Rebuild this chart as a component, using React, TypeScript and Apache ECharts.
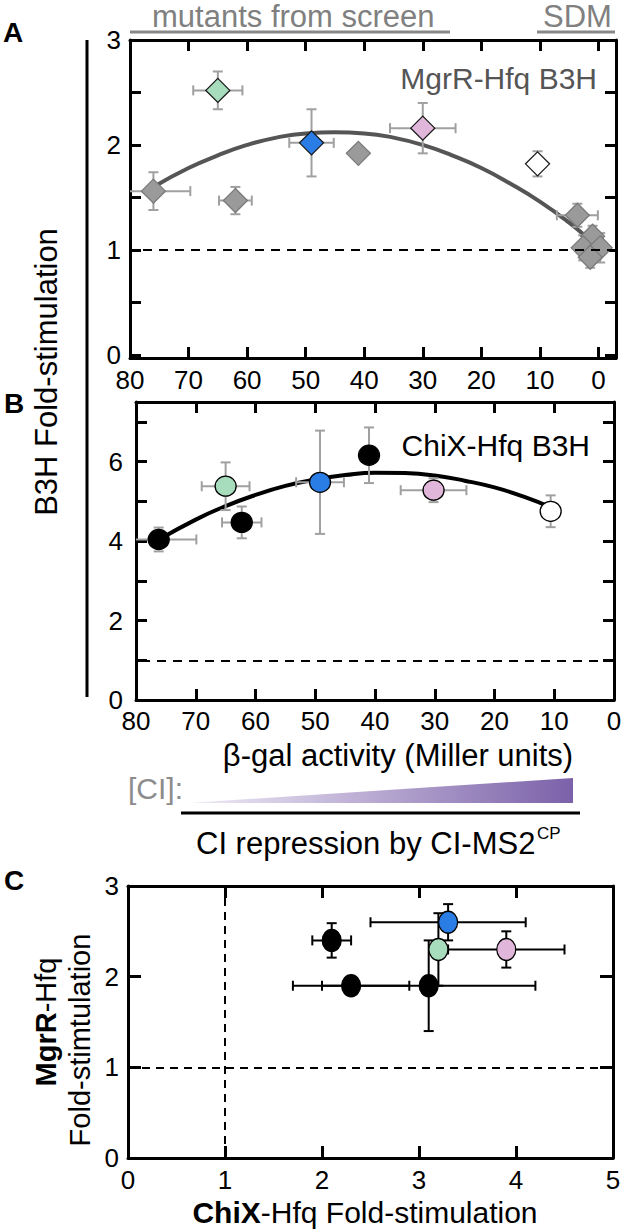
import React, { useEffect, useRef } from "react";
import * as echarts from "echarts";

const FONT = '"Liberation Sans", Arial, Helvetica, sans-serif';

// Panel A (MgrR-Hfq B3H)
const aX = [76, 62, 65, 49, 41, 30, 10.4, 3.6, 1.0, 2.6, -0.3, 1.4];
const aY = [1.56, 1.47, 2.52, 2.02, 1.92, 2.16, 1.82, 1.33, 1.13, 1.02, 1.02, 0.93];
const aXerr = [6.3, 2.8, 4.2, 3.8, 0, 5.6, 0, 3.5, 1.0, 1.0, 1.0, 1.0];
const aYerr = [0.18, 0.13, 0.18, 0.32, 0, 0.24, 0.12, 0.11, 0.1, 0.12, 0.14, 0.1];
const aColors = ["#9a9a9a", "#9a9a9a", "#a7dcbd", "#2b7de6", "#9a9a9a", "#e0b7da", "#ffffff", "#9a9a9a", "#9a9a9a", "#9a9a9a", "#9a9a9a", "#9a9a9a"];
const aCurveX = [76, 70, 65, 60, 55, 50, 45, 40, 35, 30, 25, 20, 15, 10, 5, 2];
const aCurveY = [1.6, 1.78, 1.9, 2.0, 2.07, 2.11, 2.12, 2.11, 2.07, 2.0, 1.9, 1.78, 1.63, 1.46, 1.26, 1.12];

// Panel B (ChiX-Hfq B3H)
const bX = [76.2, 65, 62.3, 49.2, 41, 30.2, 10.6];
const bY = [4.04, 5.38, 4.47, 5.48, 6.16, 5.28, 4.75];
const bXerr = [6.3, 4, 3.3, 4, 0, 5.5, 0];
const bYerr = [0.3, 0.6, 0.4, 1.3, 0.7, 0.3, 0.4];
const bColors = ["#000000", "#a7dcbd", "#000000", "#2b7de6", "#000000", "#e0b7da", "#ffffff"];
const bCurveX = [76, 70, 65, 60, 55, 50, 45, 40, 35, 30, 25, 20, 15, 10.6];
const bCurveY = [4.05, 4.54, 4.88, 5.16, 5.39, 5.55, 5.66, 5.72, 5.71, 5.65, 5.52, 5.35, 5.11, 4.85];

// Panel C (ChiX vs MgrR fold-stimulation)
const cX = [2.1, 2.3, 3.1, 3.3, 3.2, 3.9];
const cY = [2.4, 1.9, 1.9, 2.6, 2.3, 2.3];
const cXerr = [0.2, 0.6, 1.1, 0.8, 0.05, 0.6];
const cYerr = [0.19, 0.06, 0.5, 0.2, 0.4, 0.2];
const cColors = ["#000000", "#000000", "#000000", "#2b7de6", "#a7dcbd", "#e0b7da"];

// Tick values
const millerTicks = [0, 10, 20, 30, 40, 50, 60, 70, 80];
const aYTicks = [0, 0.5, 1, 1.5, 2, 2.5, 3];
const aYLabels = [0, 1, 2, 3];
const bYTicks = [0, 1, 2, 3, 4, 5, 6, 7];
const bYLabels = [0, 2, 4, 6];
const cXTicks = [0, 1, 2, 3, 4, 5];
const cYTicks = [0, 1, 2, 3];

const ELLIPSE = "path://M0,10a10,10 0 1,0 20,0a10,10 0 1,0 -20,0";

function axis(opts: any) {
  const { gridIndex, position, min, max, inverse, ticks, labels, tickLen, labelMargin } = opts;
  return {
    type: "value",
    gridIndex,
    position,
    min,
    max,
    inverse: !!inverse,
    splitLine: { show: false },
    axisLine: { show: true, onZero: false, lineStyle: { color: "#000", width: 3 } },
    axisTick: {
      show: true,
      inside: true,
      length: tickLen || 11,
      lineStyle: { color: "#000", width: 3 },
      customValues: ticks,
    },
    axisLabel: labels
      ? {
          show: true,
          customValues: labels,
          fontSize: 26,
          fontFamily: FONT,
          color: "#000",
          margin: labelMargin || 9,
        }
      : { show: false },
  };
}

function errSeries(xIdx: number, yIdx: number, xs: number[], ys: number[], ex: number[], ey: number[], color: string, width: number) {
  return {
    type: "custom",
    xAxisIndex: xIdx,
    yAxisIndex: yIdx,
    clip: true,
    z: 2,
    data: xs.map((x, i) => [x, ys[i], ex[i], ey[i]]),
    renderItem: (params: any, api: any) => {
      const x = api.value(0);
      const y = api.value(1);
      const exv = api.value(2);
      const eyv = api.value(3);
      const c = api.coord([x, y]);
      const style = { stroke: color, lineWidth: width };
      const cap = 5;
      const children: any[] = [];
      if (exv > 0) {
        const l = api.coord([x - exv, y]);
        const r = api.coord([x + exv, y]);
        children.push({ type: "line", shape: { x1: l[0], y1: c[1], x2: r[0], y2: c[1] }, style });
        children.push({ type: "line", shape: { x1: l[0], y1: c[1] - cap, x2: l[0], y2: c[1] + cap }, style });
        children.push({ type: "line", shape: { x1: r[0], y1: c[1] - cap, x2: r[0], y2: c[1] + cap }, style });
      }
      if (eyv > 0) {
        const t = api.coord([x, y + eyv]);
        const b = api.coord([x, y - eyv]);
        children.push({ type: "line", shape: { x1: c[0], y1: t[1], x2: c[0], y2: b[1] }, style });
        children.push({ type: "line", shape: { x1: c[0] - cap, y1: t[1], x2: c[0] + cap, y2: t[1] }, style });
        children.push({ type: "line", shape: { x1: c[0] - cap, y1: b[1], x2: c[0] + cap, y2: b[1] }, style });
      }
      return { type: "group", children };
    },
  };
}

function pts(xs: number[], ys: number[], cols: string[], border: (c: string) => string) {
  return xs.map((x, i) => ({
    value: [x, ys[i]],
    itemStyle: { color: cols[i], borderColor: border(cols[i]), borderWidth: 1.3, opacity: 1 },
  }));
}

export default function App() {
  const ref = useRef<HTMLDivElement>(null);
  useEffect(() => {
    if (!ref.current) return;
    const chart = echarts.init(ref.current, null, { renderer: "svg" });
    const dashed = { type: [9, 7], color: "#000", width: 2 };
    const option: any = {
      animation: false,
      backgroundColor: "#fff",
      grid: [
        { left: 130, top: 40, width: 486, height: 318 },
        { left: 136, top: 402, width: 478, height: 298 },
        { left: 128, top: 886, width: 485, height: 272 },
      ],
      xAxis: [
        axis({ gridIndex: 0, position: "bottom", min: -3, max: 80, inverse: true, ticks: millerTicks, labels: millerTicks }),
        axis({ gridIndex: 0, position: "top", min: -3, max: 80, inverse: true, ticks: millerTicks }),
        axis({ gridIndex: 1, position: "bottom", min: 0, max: 80, inverse: true, ticks: millerTicks, labels: millerTicks, labelMargin: 8 }),
        axis({ gridIndex: 1, position: "top", min: 0, max: 80, inverse: true, ticks: millerTicks }),
        axis({ gridIndex: 2, position: "bottom", min: 0, max: 5, ticks: cXTicks, labels: cXTicks, tickLen: 12 }),
        axis({ gridIndex: 2, position: "top", min: 0, max: 5, ticks: cXTicks, tickLen: 12 }),
      ],
      yAxis: [
        axis({ gridIndex: 0, position: "left", min: -0.03, max: 3, ticks: aYTicks, labels: aYLabels }),
        axis({ gridIndex: 0, position: "right", min: -0.03, max: 3, ticks: aYTicks }),
        axis({ gridIndex: 1, position: "left", min: 0, max: 7.5, ticks: bYTicks, labels: bYLabels, labelMargin: 13 }),
        axis({ gridIndex: 1, position: "right", min: 0, max: 7.5, ticks: bYTicks }),
        axis({ gridIndex: 2, position: "left", min: 0, max: 3, ticks: cYTicks, labels: cYTicks, tickLen: 13 }),
        axis({ gridIndex: 2, position: "right", min: 0, max: 3, ticks: cYTicks, tickLen: 13 }),
      ],
      series: [
        // Panel A
        {
          type: "line",
          xAxisIndex: 0,
          yAxisIndex: 0,
          data: aCurveX.map((x, i) => [x, aCurveY[i]]),
          smooth: true,
          showSymbol: false,
          symbol: "none",
          z: 1,
          lineStyle: { color: "#555", width: 4 },
          markLine: {
            silent: true,
            symbol: "none",
            label: { show: false },
            lineStyle: dashed,
            data: [{ yAxis: 1 }],
          },
        },
        errSeries(0, 0, aX, aY, aXerr, aYerr, "#a0a0a0", 2),
        {
          type: "scatter",
          xAxisIndex: 0,
          yAxisIndex: 0,
          symbol: "diamond",
          symbolSize: 24,
          z: 3,
          itemStyle: { opacity: 1 },
          data: pts(aX, aY, aColors, (c) => (c === "#9a9a9a" ? "#7a7a7a" : "#1a1a1a")),
        },
        // Panel B
        {
          type: "line",
          xAxisIndex: 2,
          yAxisIndex: 2,
          data: bCurveX.map((x, i) => [x, bCurveY[i]]),
          smooth: true,
          showSymbol: false,
          symbol: "none",
          z: 1,
          lineStyle: { color: "#000", width: 4 },
          markLine: {
            silent: true,
            symbol: "none",
            label: { show: false },
            lineStyle: dashed,
            data: [{ yAxis: 1 }],
          },
        },
        errSeries(2, 2, bX, bY, bXerr, bYerr, "#a0a0a0", 2),
        {
          type: "scatter",
          xAxisIndex: 2,
          yAxisIndex: 2,
          symbol: ELLIPSE,
          symbolSize: [21, 20],
          z: 3,
          itemStyle: { opacity: 1 },
          data: pts(bX, bY, bColors, () => "#000"),
        },
        // Panel C
        errSeries(4, 4, cX, cY, cXerr, cYerr, "#000", 2),
        {
          type: "scatter",
          xAxisIndex: 4,
          yAxisIndex: 4,
          symbol: ELLIPSE,
          symbolSize: [19, 22],
          z: 3,
          itemStyle: { opacity: 1 },
          data: pts(cX, cY, cColors, () => "#000"),
          markLine: {
            silent: true,
            symbol: "none",
            label: { show: false },
            lineStyle: { type: [8, 6], color: "#000", width: 2 },
            data: [{ yAxis: 1 }, { xAxis: 1 }],
          },
        },
      ],
      graphic: [
        { type: "text", x: 3, y: 32, style: { text: "A", font: `bold 28px ${FONT}`, fill: "#000", textVerticalAlign: "middle" } },
        { type: "text", x: 4, y: 403, style: { text: "B", font: `bold 28px ${FONT}`, fill: "#000", textVerticalAlign: "middle" } },
        { type: "text", x: 4, y: 880, style: { text: "C", font: `bold 28px ${FONT}`, fill: "#000", textVerticalAlign: "middle" } },
        { type: "text", x: 152, y: 16, style: { text: "mutants from screen", font: `31px ${FONT}`, fill: "#808080", textVerticalAlign: "middle" } },
        { type: "line", shape: { x1: 130, y1: 32, x2: 450, y2: 32 }, style: { stroke: "#888", lineWidth: 3 } },
        { type: "text", x: 543, y: 16, style: { text: "SDM", font: `31px ${FONT}`, fill: "#808080", textVerticalAlign: "middle" } },
        { type: "line", shape: { x1: 537, y1: 32, x2: 615, y2: 32 }, style: { stroke: "#888", lineWidth: 3 } },
        { type: "text", x: 597, y: 78, style: { text: "MgrR-Hfq B3H", font: `30px ${FONT}`, fill: "#555", textAlign: "right", textVerticalAlign: "middle" } },
        { type: "text", x: 590, y: 445, style: { text: "ChiX-Hfq B3H", font: `30px ${FONT}`, fill: "#000", textAlign: "right", textVerticalAlign: "middle" } },
        { type: "line", shape: { x1: 87, y1: 40, x2: 87, y2: 697 }, style: { stroke: "#000", lineWidth: 3 } },
        {
          type: "text",
          x: 46,
          y: 372,
          rotation: Math.PI / 2,
          style: { text: "B3H Fold-stimulation", font: `31px ${FONT}`, fill: "#000", textAlign: "center", textVerticalAlign: "middle" },
        },
        { type: "text", x: 398, y: 755, style: { text: "\u03b2-gal activity (Miller units)", font: `31px ${FONT}`, fill: "#000", textAlign: "center", textVerticalAlign: "middle" } },
        { type: "text", x: 128, y: 788, style: { text: "[CI]:", font: `30px ${FONT}`, fill: "#8c8c8c", textVerticalAlign: "middle" } },
        {
          type: "polygon",
          shape: { points: [[188, 803], [573, 778], [573, 803]] },
          style: {
            fill: new echarts.graphic.LinearGradient(0, 0, 1, 0, [
              { offset: 0, color: "#f1edf7" },
              { offset: 1, color: "#7b61a9" },
            ]),
          },
        },
        { type: "line", shape: { x1: 181, y1: 813, x2: 580, y2: 813 }, style: { stroke: "#000", lineWidth: 3 } },
        { type: "text", x: 196, y: 843, style: { text: "CI repression by CI-MS2", font: `31px ${FONT}`, fill: "#000", textVerticalAlign: "middle" } },
        { type: "text", x: 537, y: 833, style: { text: "CP", font: `17px ${FONT}`, fill: "#000", textVerticalAlign: "middle" } },
        {
          type: "text",
          x: 365,
          y: 1212,
          style: {
            text: "{b|ChiX}-Hfq Fold-stimulation",
            font: `30px ${FONT}`,
            fill: "#000",
            textAlign: "center",
            textVerticalAlign: "middle",
            rich: { b: { fontWeight: "bold", fontSize: 30, fontFamily: FONT, fill: "#000" } },
          },
        },
        {
          type: "text",
          x: 46,
          y: 1022,
          rotation: Math.PI / 2,
          style: {
            text: "{b|MgrR}-Hfq",
            font: `29px ${FONT}`,
            fill: "#000",
            textAlign: "center",
            textVerticalAlign: "middle",
            rich: { b: { fontWeight: "bold", fontSize: 29, fontFamily: FONT, fill: "#000" } },
          },
        },
        {
          type: "text",
          x: 80,
          y: 1040,
          rotation: Math.PI / 2,
          style: { text: "Fold-stimtulation", font: `29px ${FONT}`, fill: "#000", textAlign: "center", textVerticalAlign: "middle" },
        },
      ],
    };
    chart.setOption(option);
    return () => chart.dispose();
  }, []);
  return <div ref={ref} style={{ position: "absolute", left: 0, top: 0, width: 628, height: 1232 }} />;
}
